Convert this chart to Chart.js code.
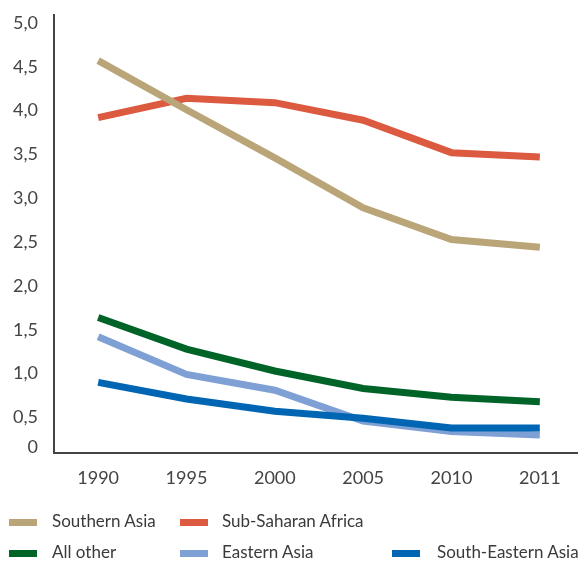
<!DOCTYPE html>
<html>
<head>
<meta charset="utf-8">
<script src="https://cdn.jsdelivr.net/npm/chart.js@4/dist/chart.umd.min.js"></script>
<style>
    body { margin: 0; background: #fff; overflow: hidden; }
    #wrap { position: relative; width: 578px; height: 562px; overflow: hidden; }
    #legend { position: absolute; left: 0; top: 0; width: 578px; height: 562px; pointer-events: none;
              font-family: Lato, sans-serif; font-size: 17px; color: #3a3a3a; }
    .sw { position: absolute; width: 28px; height: 7px; }
    .lbl { position: absolute; line-height: 20px; white-space: nowrap; }
</style>
</head>
<body>
<div id="wrap">
    <canvas id="chart" width="584" height="562"></canvas>
    <div id="legend"></div>
</div>
<script>
const years = ['1990', '1995', '2000', '2005', '2010', '2011'];
const southernAsia = [4.57, 4.01, 3.46, 2.89, 2.53, 2.44];
const subSaharanAfrica = [3.92, 4.14, 4.09, 3.89, 3.52, 3.47];
const allOther = [1.64, 1.28, 1.03, 0.83, 0.73, 0.68];
const easternAsia = [1.42, 0.99, 0.81, 0.46, 0.34, 0.30];
const southEasternAsia = [0.90, 0.71, 0.57, 0.49, 0.38, 0.38];
const yTicks = [0.16, 0.5, 1.0, 1.5, 2.0, 2.5, 3.0, 3.5, 4.0, 4.5, 5.0];

function line(label, values, color, order) {
    return {
        label: label,
        data: values,
        borderColor: color,
        backgroundColor: color,
        borderWidth: 7,
        pointRadius: 0,
        tension: 0,
        fill: false,
        order: order,
    };
}

const datasets = [
    line('Southern Asia', southernAsia, '#b9a577', 0),
    line('Sub-Saharan Africa', subSaharanAfrica, '#dc5a40', 1),
    line('All other', allOther, '#006428', 2),
    line('Eastern Asia', easternAsia, '#7ea0d4', 4),
    line('South-Eastern Asia', southEasternAsia, '#0066b3', 3),
];

const tickFont = { family: 'Lato, sans-serif', size: 18 };

const config = {
    type: 'line',
    data: { labels: years, datasets: datasets },
    options: {
        responsive: false,
        animation: false,
        layout: { padding: { top: 15, left: 0, right: 0, bottom: 59 } },
        plugins: {
            legend: { display: false },
            tooltip: { enabled: false },
        },
        scales: {
            x: {
                offset: true,
                grid: { display: false, drawTicks: false },
                border: { display: true, color: '#444', width: 2 },
                ticks: { color: '#444', font: tickFont, padding: 14 },
            },
            y: {
                min: 0.09,
                max: 5.09,
                grid: { display: false, drawTicks: false },
                border: { display: true, color: '#444', width: 2 },
                ticks: {
                    color: '#444',
                    font: tickFont,
                    padding: 16,
                    callback: function (v) {
                        return v < 0.3 ? '0' : v.toFixed(1).replace('.', ',');
                    }
                },
                afterBuildTicks: function (scale) {
                    scale.ticks = yTicks.map(v => ({ value: v }));
                },
                afterFit: function (scale) {
                    scale.width = 54;
                    scale.paddingTop = 0;
                    scale.paddingBottom = 0;
                }
            }
        }
    }
};

const chart = new Chart(document.getElementById('chart'), config);

// legend laid out like the original: two rows, third column only on the second row
const legendSpots = [
    { swatch: 9, text: 52, y: 522 },
    { swatch: 180, text: 222, y: 522 },
    { swatch: 9, text: 52, y: 553 },
    { swatch: 180, text: 222, y: 553 },
    { swatch: 392, text: 437, y: 553 },
];
const legend = document.getElementById('legend');
chart.data.datasets.forEach(function (ds, i) {
    const spot = legendSpots[i];
    const sw = document.createElement('div');
    sw.className = 'sw';
    sw.style.left = spot.swatch + 'px';
    sw.style.top = (spot.y - 3) + 'px';
    sw.style.background = ds.borderColor;
    const lbl = document.createElement('div');
    lbl.className = 'lbl';
    lbl.style.left = spot.text + 'px';
    lbl.style.top = (spot.y - 11) + 'px';
    lbl.textContent = ds.label;
    legend.appendChild(sw);
    legend.appendChild(lbl);
});
</script>
</body>
</html>
